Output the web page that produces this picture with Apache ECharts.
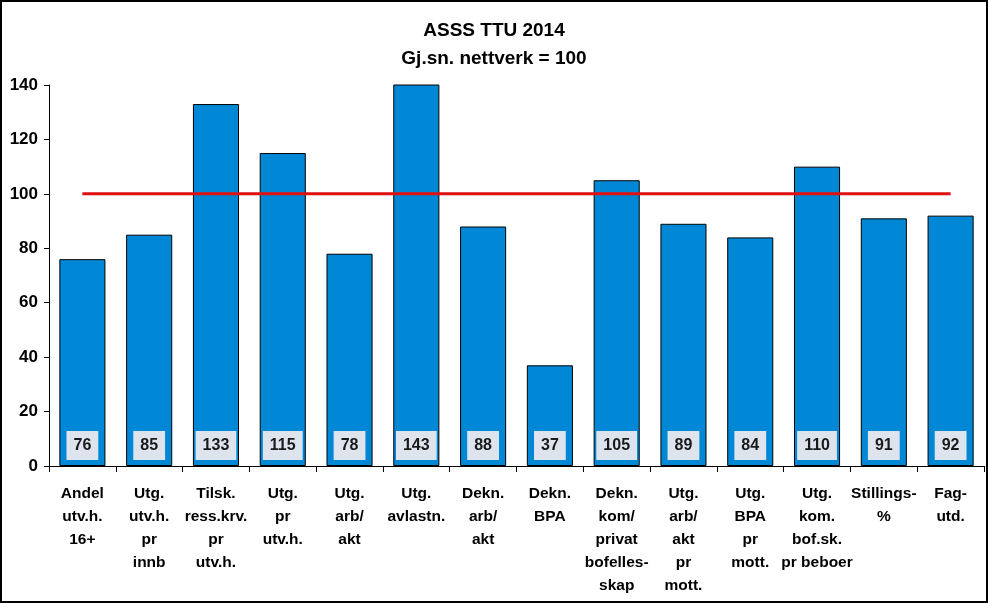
<!DOCTYPE html>
<html><head><meta charset="utf-8">
<script src="https://cdn.jsdelivr.net/npm/echarts@6/dist/echarts.min.js"></script>
<style>html,body{margin:0;padding:0;background:#fff}#c{width:988px;height:603px}</style>
</head><body><div id="c"></div>
<script>
const categories = ["Andel\nutv.h.\n16+","Utg.\nutv.h.\npr\ninnb","Tilsk.\nress.krv.\npr\nutv.h.","Utg.\npr\nutv.h.","Utg.\narb/\nakt","Utg.\navlastn.","Dekn.\narb/\nakt","Dekn.\nBPA","Dekn.\nkom/\nprivat\nbofelles-\nskap","Utg.\narb/\nakt\npr\nmott.","Utg.\nBPA\npr\nmott.","Utg.\nkom.\nbof.sk.\npr beboer","Stillings-\n%","Fag-\nutd."];
const values = [76,85,133,115,78,143,88,37,105,89,84,110,91,92];
const reference = [100,100,100,100,100,100,100,100,100,100,100,100,100,100];
const yTicks = [0,20,40,60,80,100,120,140];
const titleLines = ["ASSS TTU 2014","Gj.sn. nettverk = 100"];

const chart = echarts.init(document.getElementById('c'));
const font = "'Liberation Sans', Arial, sans-serif";
chart.setOption({
  animation:false,
  textStyle:{fontFamily:font},
  title:{text:titleLines.join('\n'),left:'center',top:12,
    textStyle:{fontSize:19,fontWeight:'bold',color:'#000',lineHeight:28,fontFamily:font}},
  graphic:[{type:'rect',shape:{x:1,y:1,width:986,height:601},style:{fill:'none',stroke:'#000',lineWidth:2},z:100}],
  grid:{left:49,right:4,top:85,bottom:137},
  xAxis:{type:'category',data:categories,
    axisLine:{lineStyle:{color:'#000',width:1}},
    axisTick:{show:true,length:6,lineStyle:{color:'#000'}},
    axisLabel:{interval:0,color:'#000',fontWeight:'bold',fontSize:15.5,lineHeight:23,margin:16,fontFamily:font}},
  yAxis:{type:'value',min:0,max:140,interval:20,
    axisLine:{show:true,lineStyle:{color:'#000'}},
    axisTick:{show:true,length:5,lineStyle:{color:'#000'}},
    splitLine:{show:false},
    axisLabel:{color:'#000',fontWeight:'bold',fontSize:17,margin:11,fontFamily:font,
      formatter:v=>yTicks.includes(v)?String(v):''}},
  series:[
    {type:'bar',data:values,barCategoryGap:'31%',
      itemStyle:{color:'#0088d6',borderColor:'#000',borderWidth:1},
      label:{show:true,position:'insideBottom',distance:6,backgroundColor:'#dde4ee',
        padding:[5,7,5,7],fontSize:16,fontWeight:'bold',color:'#1a1a1a',lineHeight:19,fontFamily:font}},
    {type:'line',data:reference,symbol:'none',lineStyle:{color:'#e01010',width:3},z:5}
  ]
});
</script></body></html>
